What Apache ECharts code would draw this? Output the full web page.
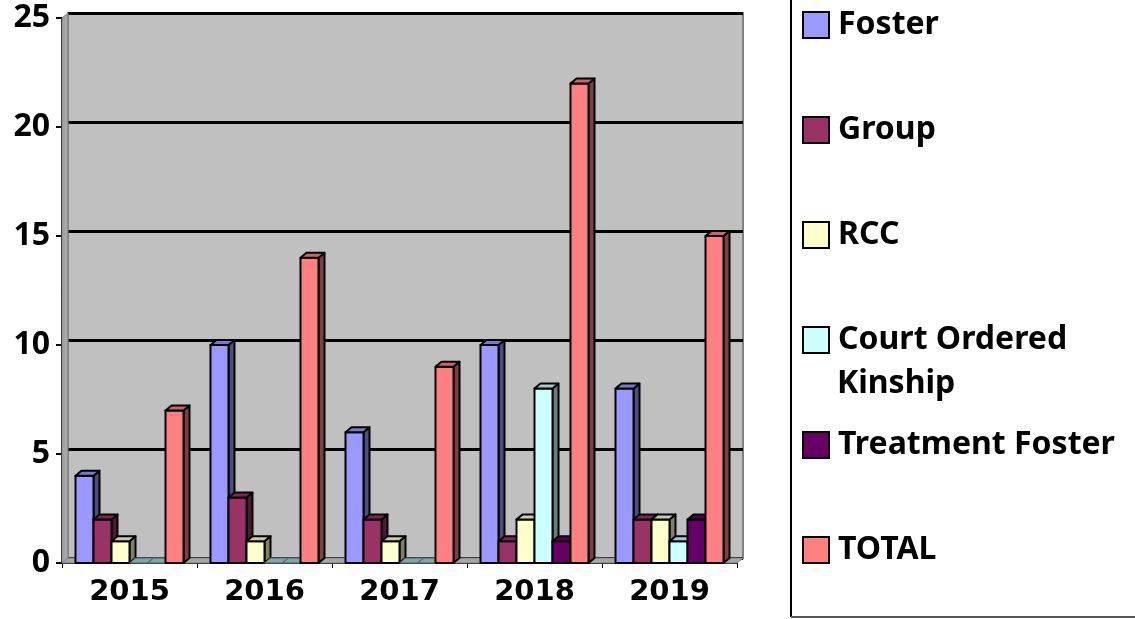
<!DOCTYPE html>
<html>
<head>
<meta charset="utf-8">
<script src="https://cdn.jsdelivr.net/npm/echarts@6/dist/echarts.min.js"></script>
<style>
html, body { margin: 0; padding: 0; background: #fff; }
#main { width: 1135px; height: 619px; }
</style>
</head>
<body>
<div id="main"></div>
<script>
var years = ['2015', '2016', '2017', '2018', '2019'];
var yTicks = [0, 5, 10, 15, 20, 25];
var seriesNames = ['Foster', 'Group', 'RCC', 'Court Ordered Kinship', 'Treatment Foster', 'TOTAL'];
var foster = [4, 10, 6, 10, 8];
var group = [2, 3, 2, 1, 2];
var rcc = [1, 1, 1, 2, 2];
var courtKinship = [0, 0, 0, 8, 1];
var treatmentFoster = [0, 0, 0, 1, 2];
var total = [7, 14, 9, 22, 15];

var seriesValues = [foster, group, rcc, courtKinship, treatmentFoster, total];
var fronts = ['#9999FF', '#993366', '#FFFFCC', '#CCFFFF', '#660066', '#FF8080'];
var sides = ['#4D4D80', '#4D1A33', '#80806A', '#668080', '#330033', '#804040'];
var tops = ['#7A7ACC', '#7A2952', '#CCCCA3', '#A3CCCC', '#520052', '#CC6666'];

var DX = 6, DY = 5, BW = 18;

// each bar = front face + right side + top, placed through the category/value scales
function bar3d(k) {
    return function (params, api) {
        var cat = api.value(0), v = api.value(1);
        var base = api.coord([cat, 0]);
        var top = api.coord([cat, v]);
        var x0 = base[0] - 3 * BW + k * BW;
        var x1 = x0 + BW;
        var st = { stroke: '#000', lineWidth: 2, lineJoin: 'round' };
        var kids = [];
        if (v > 0) {
            kids.push({ type: 'polygon', shape: { points: [[x1, top[1]], [x1 + DX, top[1] - DY], [x1 + DX, base[1] - DY], [x1, base[1]]] },
                style: Object.assign({ fill: sides[k] }, st) });
            kids.push({ type: 'rect', shape: { x: x0, y: top[1], width: BW, height: base[1] - top[1] },
                style: Object.assign({ fill: fronts[k] }, st) });
        }
        kids.push({ type: 'polygon', shape: { points: [[x0, top[1]], [x0 + DX, top[1] - DY], [x1 + DX, top[1] - DY], [x1, top[1]]] },
            style: Object.assign({ fill: v > 0 ? tops[k] : '#7FA8A8' }, st, v > 0 ? {} : { stroke: '#555', lineWidth: 1 }) });
        return { type: 'group', children: kids };
    };
}

var series = [{
    name: 'walls',
    type: 'custom',
    xAxisIndex: 0, yAxisIndex: 0,
    silent: true,
    z: 1,
    data: [[0, 0]],
    renderItem: function (params, api) {
        var r = params.coordSys;
        var l = r.x, t = r.y, b = r.y + r.height, rt = r.x + r.width;
        return { type: 'group', children: [
            { type: 'polygon', shape: { points: [[l, b], [l + DX, b - DY], [rt + DX, b - DY], [rt, b]] },
              style: { fill: '#A6A6A6', stroke: '#808080', lineWidth: 1 } },
            { type: 'polygon', shape: { points: [[l, t], [l + DX, t - DY], [l + DX, b - DY], [l, b]] },
              style: { fill: '#A6A6A6', stroke: '#808080', lineWidth: 1 } }
        ] };
    }
}];

seriesValues.forEach(function (vals, k) {
    series.push({
        name: seriesNames[k],
        type: 'custom',
        xAxisIndex: 0, yAxisIndex: 0,
        z: 2 + k,
        itemStyle: { color: fronts[k], borderColor: '#000', borderWidth: 2 },
        encode: { x: 0, y: 1 },
        data: vals.map(function (v, i) { return [i, v]; }),
        renderItem: bar3d(k)
    });
});

var chart = echarts.init(document.getElementById('main'));
chart.setOption({
    animation: false,
    backgroundColor: '#fff',
    grid: [
        { left: 62, right: 398, top: 18, bottom: 56 },
        { left: 68, right: 392, top: 13, bottom: 61, show: true, backgroundColor: '#C0C0C0', borderColor: '#808080', borderWidth: 2 }
    ],
    xAxis: [{
        type: 'category',
        gridIndex: 0,
        data: years,
        axisLine: { lineStyle: { color: '#000', width: 2 } },
        axisTick: { show: true, length: 5, lineStyle: { color: '#000', width: 1 } },
        axisLabel: { margin: 15, color: '#000', fontFamily: 'DejaVu Sans', fontWeight: 'bold', fontSize: 29 }
    }, {
        type: 'category',
        gridIndex: 1,
        data: years,
        show: false
    }],
    yAxis: [{
        type: 'value',
        gridIndex: 0,
        min: yTicks[0], max: yTicks[yTicks.length - 1], interval: 5,
        axisLine: { show: true, lineStyle: { color: '#000', width: 2 } },
        axisTick: { show: true, length: 6, lineStyle: { color: '#000', width: 2 } },
        splitLine: { show: false },
        axisLabel: { margin: 12, color: '#000', fontFamily: 'Noto Sans', fontWeight: 'bold', fontSize: 32, padding: [4, 0, 0, 0] }
    }, {
        type: 'value',
        gridIndex: 1,
        min: yTicks[0], max: yTicks[yTicks.length - 1], interval: 5,
        axisLine: { show: false },
        axisTick: { show: false },
        axisLabel: { show: false },
        splitLine: { show: true, lineStyle: { color: '#000', width: 3 } }
    }],
    legend: {
        orient: 'vertical',
        left: 802,
        top: 5,
        padding: 0,
        data: seriesNames,
        icon: 'rect',
        itemWidth: 26,
        itemHeight: 26,
        itemGap: 65,
        itemStyle: { borderColor: '#000', borderWidth: 2 },
        formatter: function (name) { return name === 'Court Ordered Kinship' ? 'Court Ordered' : name; },
        textStyle: { color: '#000', fontFamily: 'Noto Sans', fontWeight: 'bold', fontSize: 32, lineHeight: 40, padding: [0, 0, 0, 4] },
        selectedMode: false
    },
    graphic: [
        { type: 'line', shape: { x1: 791, y1: 0, x2: 791, y2: 617 }, style: { stroke: '#000', lineWidth: 2 } },
        { type: 'line', shape: { x1: 791, y1: 617, x2: 1135, y2: 617 }, style: { stroke: '#555', lineWidth: 2 } },
        { type: 'text', left: 837, top: 368, style: { text: 'Kinship', fill: '#000', font: 'bold 32px "Noto Sans"' } }
    ],
    series: series
});
</script>
</body>
</html>
